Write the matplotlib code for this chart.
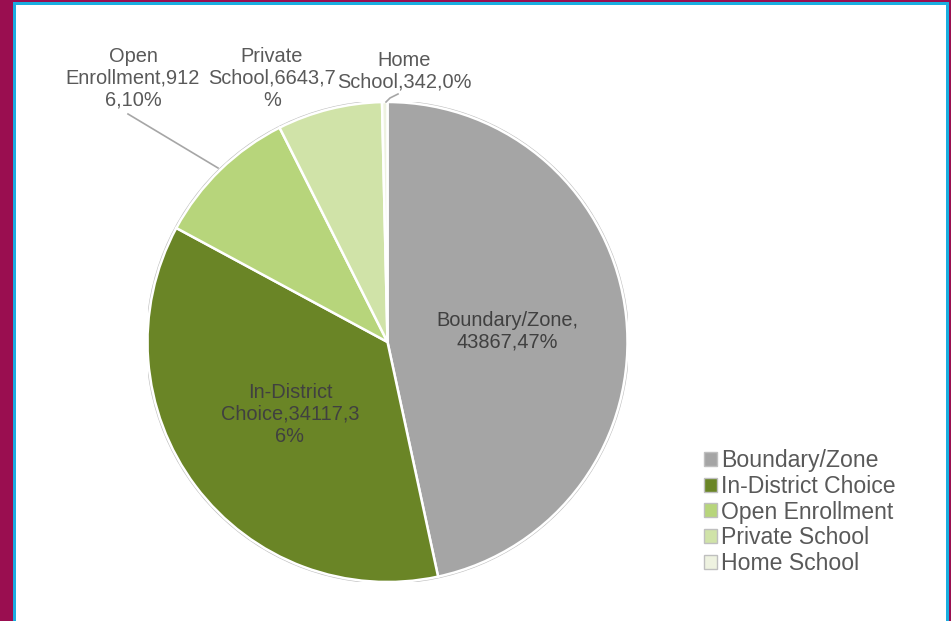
import matplotlib
matplotlib.use("Agg")
import matplotlib.pyplot as plt
from matplotlib.patches import Rectangle, Circle

plt.rcParams['font.family'] = ['Liberation Sans', 'DejaVu Sans']

categories = ["Boundary/Zone", "In-District Choice", "Open Enrollment", "Private School", "Home School"]
values = [43867, 34117, 9126, 6643, 342]
percents = ["47%", "36%", "10%", "7%", "0%"]
colors = ["#A5A5A5", "#6A8526", "#B7D57B", "#D0E3A8", "#EEF2E0"]

W, H = 951, 621
fig = plt.figure(figsize=(W / 100, H / 100), dpi=100)
fig.patch.set_facecolor("white")

def px_rect(x0, y0, w, h, color):
    fig.add_artist(Rectangle((x0 / W, 1 - (y0 + h) / H), w / W, h / H,
                             transform=fig.transFigure, facecolor=color,
                             edgecolor="none", zorder=10))

maroon = "#9A0E50"
blue = "#1AAEE0"
px_rect(0, 0, 13, H, maroon)
px_rect(13, 0, 2.5, H, blue)
px_rect(0, 0, W, 2, maroon)
px_rect(13, 2, W - 13, 2.5, blue)
px_rect(949, 0, 2, H, maroon)
px_rect(946, 2, 3, H, blue)

cx, cy, r = 387.5, 342, 240
ax = fig.add_axes([(cx - r) / W, 1 - (cy + r) / H, 2 * r / W, 2 * r / H])
ax.axis("off")

wedges, _ = ax.pie(values, colors=colors, startangle=90, counterclock=False,
                   radius=1, wedgeprops=dict(edgecolor="white", linewidth=1.8))
ax.add_patch(Circle((0, 0), 1.004, facecolor="none", edgecolor="#BFBFBF", lw=1.2, zorder=0))
ax.set_xlim(-1, 1)
ax.set_ylim(-1, 1)
ax.set_aspect("equal")

def fx(px):
    return (px - cx) / r

def fy(py):
    return (cy - py) / r

fs = 14.4
ls = 1.2
ax.text(fx(507), fy(331), f"{categories[0]},\n{values[0]},{percents[0]}", ha="center", va="center",
        fontsize=fs, color="#404040", linespacing=ls)
ax.text(fx(290), fy(414), "In-District\nChoice,34117,3\n6%", ha="center", va="center",
        fontsize=fs, color="#404040", linespacing=ls)
ax.text(fx(133), fy(78), "Open\nEnrollment,912\n6,10%",
        ha="center", va="center", fontsize=fs, color="#595959", linespacing=ls, clip_on=False)
ax.text(fx(272), fy(78), "Private\nSchool,6643,7\n%", ha="center", va="center",
        fontsize=fs, color="#595959", linespacing=ls, clip_on=False)
ax.text(fx(404), fy(71), "Home\nSchool,342,0%", ha="center", va="center",
        fontsize=fs, color="#595959", linespacing=ls, clip_on=False)

ax.plot([fx(218), fx(128)], [fy(168), fy(114)], color="#A6A6A6", lw=1.2, clip_on=False)
ax.plot([fx(386), fx(390), fx(398)], [fy(102), fy(98), fy(94)], color="#A6A6A6", lw=1.2, clip_on=False)

leg = fig.legend(wedges, categories, loc="upper left", bbox_to_anchor=(704 / W, 1 - 449 / H),
                 frameon=False, fontsize=16.6, handlelength=0.55, handleheight=0.55,
                 handletextpad=0.2, labelspacing=0.12, borderpad=0, borderaxespad=0)
for t in leg.get_texts():
    t.set_color("#595959")
for h in leg.legend_handles:
    h.set_edgecolor("#BFBFBF")
    h.set_linewidth(1.0)

fig.savefig("out.png", dpi=100)
